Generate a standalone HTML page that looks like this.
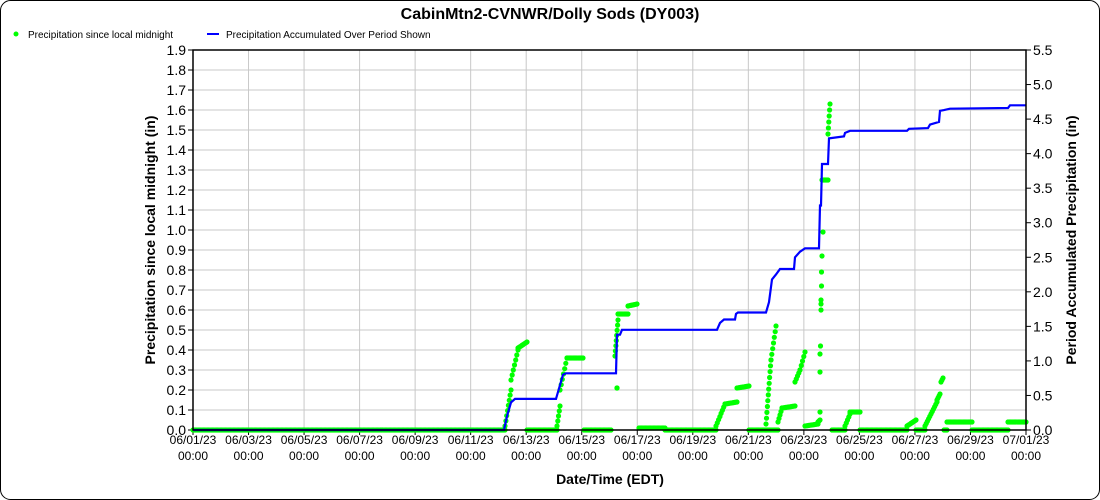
<!DOCTYPE html>
<html><head><meta charset="utf-8"><style>
html,body{margin:0;padding:0;background:#fff}
svg{display:block;font-family:"Liberation Sans",sans-serif}
</style></head><body>
<svg id="s" width="1100" height="500" xmlns="http://www.w3.org/2000/svg">
<rect x="0.5" y="0.5" width="1099" height="499" rx="10" fill="#fff" stroke="#000"/>
<text x="550" y="19" text-anchor="middle" font-size="16" font-weight="bold">CabinMtn2-CVNWR/Dolly Sods (DY003)</text>
<circle cx="16" cy="34" r="2.5" fill="#00ff00"/>
<text x="28" y="38" font-size="10">Precipitation since local midnight</text>
<line x1="207" y1="34" x2="219" y2="34" stroke="#0000ff" stroke-width="2"/>
<text x="226" y="38" font-size="10">Precipitation Accumulated Over Period Shown</text>
<g id="grid"></g>
<g id="series"></g>
<rect x="193" y="50" width="833" height="380" fill="none" stroke="#000" stroke-width="1.5"/>
<text transform="translate(155,240) rotate(-90)" text-anchor="middle" font-size="14" font-weight="bold">Precipitation since local midnight (in)</text>
<text transform="translate(1076,240) rotate(-90)" text-anchor="middle" font-size="14" font-weight="bold">Period Accumulated Precipitation (in)</text>
<text x="610" y="484" text-anchor="middle" font-size="14" font-weight="bold">Date/Time (EDT)</text>
</svg>
<script>
const NS="http://www.w3.org/2000/svg";
const g=document.getElementById('grid'),se=document.getElementById('series');
function el(p,t,a,txt){const e=document.createElementNS(NS,t);for(const k in a)e.setAttribute(k,a[k]);if(txt!==undefined)e.textContent=txt;p.appendChild(e);return e;}
const L=193,R=1026,T=50,B=430;
for(let i=0;i<=19;i++){const y=B-i*20;
 if(i>0&&i<19)el(g,'line',{x1:L,x2:R,y1:y,y2:y,stroke:'#c8c8c8'});
 el(g,'line',{x1:L-5,x2:L,y1:y,y2:y,stroke:'#000'});
 el(g,'text',{x:L-7,y:y+5,'text-anchor':'end','font-size':14},(i/10).toFixed(1));}
for(let i=0;i<=11;i++){const y=B-i*380/11;
 el(g,'line',{x1:R,x2:R+5,y1:y,y2:y,stroke:'#000'});
 el(g,'text',{x:R+7,y:y+5,'font-size':14},(i/2).toFixed(1));}
const days=['06/01/23','06/03/23','06/05/23','06/07/23','06/09/23','06/11/23','06/13/23','06/15/23','06/17/23','06/19/23','06/21/23','06/23/23','06/25/23','06/27/23','06/29/23','07/01/23'];
for(let i=0;i<16;i++){const x=L+i*(R-L)/15;
 if(i>0&&i<15)el(g,'line',{x1:x,x2:x,y1:T,y2:B,stroke:'#c8c8c8'});
 el(g,'line',{x1:x,x2:x,y1:B,y2:B+5,stroke:'#000'});
 el(g,'text',{x:x,y:B+14,'text-anchor':'middle','font-size':12},days[i]);
 el(g,'text',{x:x,y:B+30,'text-anchor':'middle','font-size':12},'00:00');}
const segs=[[193,505,0,0],[505,511,0.02,0.2],[511,518,0.25,0.4],[518,527,0.41,0.44],[527,557,0,0],[557,560,0.02,0.12],[560,567,0.2,0.36],[567,583,0.36,0.36],[584,611,0,0],
[617,617,0.21,0.21],[615,618,0.37,0.55],[618,628,0.58,0.58],[628,637,0.62,0.63],[639,665,0.01,0.01],[665,716,0,0],[716,725,0.02,0.13],[725,737,0.13,0.14],[737,749,0.21,0.22],[749,766,0,0],[766,771,0.03,0.35],[771,776,0.35,0.52],
[766,778,0,0],[778,782,0.04,0.11],[782,795,0.11,0.12],[795,800,0.24,0.3],[800,805,0.3,0.39],[805,818,0.02,0.03],[818,820,0.04,0.05],
[822,828,1.25,1.25],[828,830,1.48,1.63],[832,845,0,0],[845,850,0.02,0.08],[850,860,0.09,0.09],[860,907,0,0],[907,916,0.02,0.05],[916,925,0,0],[925,937,0.02,0.14],[937,940,0.15,0.18],[941,943,0.24,0.26],
[944,947,0,0],[947,972,0.04,0.04],[972,1008,0,0],[1008,1026,0.04,0.04]];
for(const [x0,x1,v0,v1] of segs){
 const dy=Math.abs(v1-v0)*200, dx=x1-x0, n=Math.max(1,Math.ceil(Math.max(dx/1.3,dy/6)));
 for(let k=0;k<=n;k++){const t=k/n;
  el(se,'circle',{cx:(x0+t*dx).toFixed(1),cy:(B-(v0+t*(v1-v0))*200).toFixed(1),r:2.6,fill:'#00ff00'});}}
for(const [x,v] of [[820,0.09],[820,0.29],[820,0.38],[820.5,0.42],[821,0.6],[821,0.63],[821,0.65],[821.5,0.72],[821.5,0.79],[822,0.87],[823,0.99]])
 el(se,'circle',{cx:x,cy:B-v*200,r:2.6,fill:'#00ff00'});
const bp=[[193,0],[504,0],[507,0.2],[511,0.4],[515,0.45],[556,0.45],[559,0.6],[563,0.8],[566,0.82],[616,0.82],[617,1.38],[620,1.38],[622,1.45],[717,1.45],[720,1.55],[724,1.6],[735,1.6],[736,1.68],[738,1.7],[766,1.7],[769,1.85],[772,2.18],[776,2.25],[780,2.33],[794,2.33],[795,2.5],[800,2.58],[805,2.63],[819,2.63],[820,3.25],[821,3.25],[822,3.85],[828,3.85],[829,4.22],[844,4.25],[845,4.3],[850,4.33],[907,4.33],[909,4.36],[928,4.37],[930,4.42],[939,4.46],[940,4.62],[944,4.63],[950,4.65],[1008,4.66],[1010,4.7],[1026,4.7]];
el(se,'polyline',{points:bp.map(p=>p[0]+','+(B-p[1]*380/5.5).toFixed(1)).join(' '),fill:'none',stroke:'#0000ff','stroke-width':2.2});
</script>
</body></html>
